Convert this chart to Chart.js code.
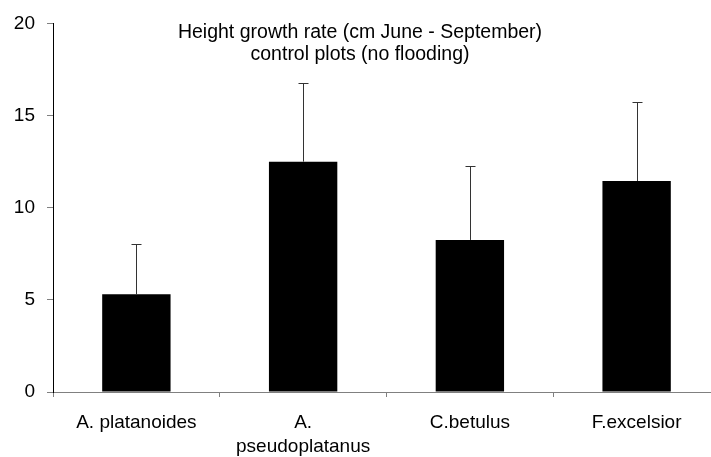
<!DOCTYPE html>
<html>
<head>
<meta charset="utf-8">
<script src="https://cdn.jsdelivr.net/npm/chart.js@4/dist/chart.umd.min.js"></script>
<style>
  html, body { margin: 0; padding: 0; background: #fff; overflow: hidden; }
  #wrap { width: 730px; height: 457px; }
</style>
</head>
<body>
<div id="wrap"><canvas id="c"></canvas></div>
<script>
// Species on the x axis (multi-line where the label wraps)
const species = ['A. platanoides', ['A.', 'pseudoplatanus'], 'C.betulus', 'F.excelsior'];
// Mean height growth (cm, June - September), control plots
const growth = [5.3, 12.5, 8.25, 11.45];
// Upper error (standard deviation) for each species
const errorUp = [2.75, 4.25, 4.0, 4.3];
// Chart heading lines
const titleLines = ['Height growth rate (cm June - September)', 'control plots (no flooding)'];

const FONT = "'Liberation Sans', Arial, sans-serif";

// Upward-only error bars with a small cap
const errorBars = {
  id: 'errorBars',
  afterDatasetsDraw(chart) {
    const ctx = chart.ctx;
    const meta = chart.getDatasetMeta(0);
    const yScale = chart.scales.y;
    ctx.save();
    ctx.strokeStyle = '#333';
    ctx.lineWidth = 1;
    meta.data.forEach((bar, i) => {
      const x = Math.round(bar.x) + 0.5;
      const yTop = yScale.getPixelForValue(growth[i]);
      const yErr = Math.round(yScale.getPixelForValue(growth[i] + errorUp[i])) + 0.5;
      ctx.beginPath();
      ctx.moveTo(x, yTop);
      ctx.lineTo(x, yErr);
      ctx.moveTo(x - 5, yErr);
      ctx.lineTo(x + 5, yErr);
      ctx.stroke();
    });
    ctx.restore();
  }
};

// Two-line heading placed inside the plot area
const heading = {
  id: 'heading',
  afterDraw(chart) {
    const ctx = chart.ctx;
    ctx.save();
    ctx.fillStyle = '#000';
    ctx.font = '19.5px ' + FONT;
    ctx.textAlign = 'center';
    ctx.textBaseline = 'middle';
    ctx.fillText(titleLines[0], 360, 33);
    ctx.fillText(titleLines[1], 360, 55);
    ctx.restore();
  }
};

new Chart(document.getElementById('c'), {
  type: 'bar',
  data: {
    labels: species,
    datasets: [{
      data: growth,
      backgroundColor: '#000',
      borderWidth: 0,
      barPercentage: 0.41,
      categoryPercentage: 1.0
    }]
  },
  options: {
    responsive: true,
    maintainAspectRatio: false,
    animation: false,
    layout: { padding: { top: 22, right: 10, left: 0, bottom: 0 } },
    plugins: {
      legend: { display: false },
      tooltip: { enabled: false },
      title: { display: false }
    },
    scales: {
      x: {
        grid: {
          display: true,
          drawOnChartArea: false,
          drawTicks: true,
          tickLength: 5,
          color: '#808080',
          offset: true
        },
        border: { display: true, color: '#808080', width: 1 },
        ticks: {
          color: '#000',
          font: { family: FONT, size: 19, lineHeight: 1.25 },
          padding: 14,
          maxRotation: 0,
          autoSkip: false
        },
        afterFit(scale) { scale.height = 65; }
      },
      y: {
        min: 0,
        max: 20,
        grid: {
          display: true,
          drawOnChartArea: false,
          drawTicks: true,
          tickLength: 6,
          color: '#808080'
        },
        border: { display: true, color: '#000', width: 1 },
        ticks: {
          stepSize: 5,
          color: '#000',
          font: { family: FONT, size: 19 },
          padding: 12
        },
        afterFit(scale) { scale.width = 53; }
      }
    }
  },
  plugins: [errorBars, heading]
});
</script>
</body>
</html>
